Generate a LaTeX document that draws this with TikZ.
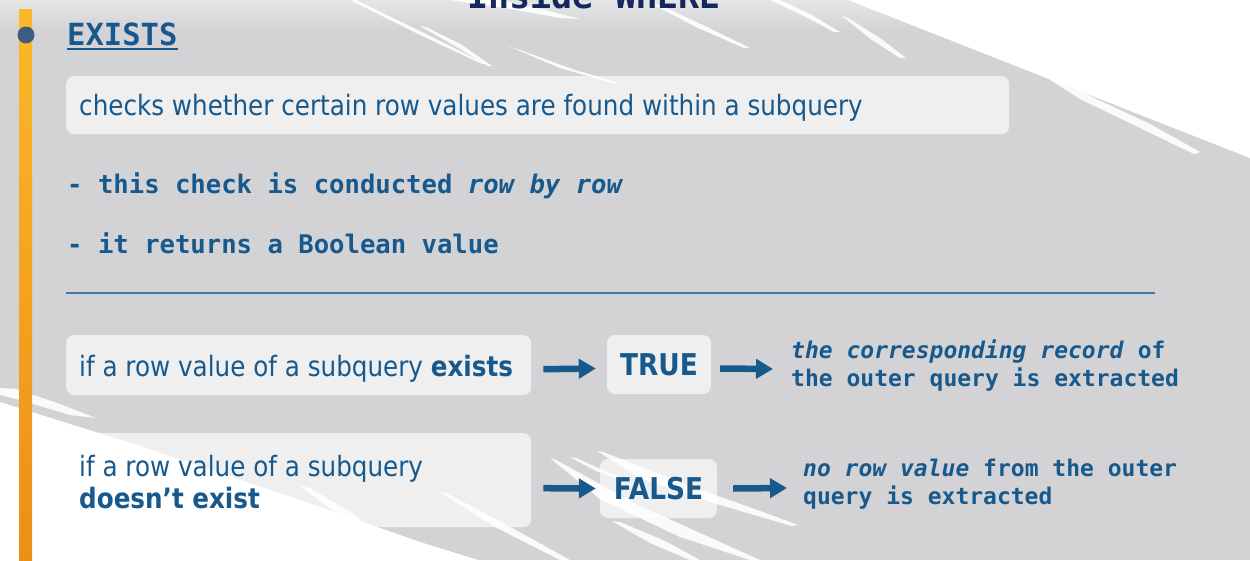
\documentclass[tikz,border=0pt]{standalone}
\usepackage{fontspec}
\setmainfont{DejaVu Sans}[FakeStretch=0.88]
\setmonofont{DejaVu Sans Mono}
\usetikzlibrary{arrows.meta}
\definecolor{bggray}{HTML}{D3D3D5}
\definecolor{bgtop}{HTML}{E6E6E8}
\definecolor{inkblue}{HTML}{17598C}
\definecolor{navy}{HTML}{13285C}
\definecolor{dotblue}{HTML}{3E5B82}
\definecolor{barTop}{HTML}{FBB829}
\definecolor{barBot}{HTML}{EC8F17}
\definecolor{rulecol}{HTML}{3F7BA6}

\begin{document}
\begin{tikzpicture}[x=1pt,y=-1pt,
  panel/.style={fill=white,fill opacity=0.66,text opacity=1,rounded corners=8pt,
                inner sep=0pt,anchor=north west},
  bodytext/.style={text=inkblue,inner sep=0pt,font=\fontsize{28}{32}\selectfont},
  codetext/.style={text=inkblue,inner sep=0pt,font=\ttfamily\bfseries\fontsize{25.6}{30}\selectfont},
  sidetext/.style={text=inkblue,inner sep=0pt,align=left,font=\ttfamily\bfseries\fontsize{23}{28}\selectfont},
  verdict/.style={panel,anchor=center,text=inkblue,font=\bfseries\fontsize{30}{34}\selectfont},
  flow/.style={draw=inkblue,line width=6.5pt,-{Triangle[length=17pt,width=19pt]}},
  streak/.style={fill=white,fill opacity=0.9}]

\useasboundingbox (0,0) rectangle (1250,560);
\clip (0,0) rectangle (1250,560);

% backdrop
\fill[bggray] (0,0) rectangle (1250,560);
\shade[top color=bgtop,bottom color=bggray] (0,0) rectangle (1250,30);
\fill[white] (848,0) -- (1250,0) -- (1250,158) -- cycle;
\fill[white] (0,402) -- (140,446) -- (300,500) -- (420,542) -- (478,560) -- (0,560) -- cycle;

% brush streaks, top
\fill[streak] (350,0) -- (356,0) -- (420,31) -- (486,64) -- (482,64) -- (416,33) -- cycle;
\fill[streak] (420,26) -- (426,27) -- (462,45) -- (492,66) -- (488,66) -- (455,46) -- cycle;
\fill[streak] (450,0) -- (500,0) -- (545,10) -- (580,19) -- (560,18) -- (505,8) -- cycle;
\fill[streak] (508,46) -- (520,50) -- (575,70) -- (620,83) -- (612,83) -- (560,68) -- cycle;
\fill[streak] (650,3) -- (660,5) -- (705,26) -- (750,48) -- (744,48) -- (698,28) -- cycle;
\fill[streak] (770,0) -- (780,0) -- (810,14) -- (840,32) -- (834,32) -- (804,16) -- cycle;
\fill[streak] (842,16) -- (848,18) -- (880,38) -- (906,58) -- (900,58) -- (872,40) -- cycle;
\fill[streak] (1022,62) -- (1030,63) -- (1090,96) -- (1150,124) -- (1200,152) -- (1194,154)
              -- (1140,128) -- (1080,99) -- cycle;

% brush streaks, bottom
\fill[streak] (0,388) -- (16,389) -- (60,404) -- (96,418) -- (70,415) -- (20,400) -- (0,395) -- cycle;
\fill[streak] (300,486) -- (310,488) -- (355,515) -- (398,560) -- (388,560) -- (345,520) -- cycle;
\fill[streak] (440,492) -- (446,493) -- (505,524) -- (570,560) -- (560,560) -- (495,527) -- cycle;
\fill[streak] (570,457) -- (576,458) -- (603,470) -- (626,480) -- (620,480) -- (596,471) -- cycle;
\fill[streak] (597,451) -- (603,452) -- (690,486) -- (760,511) -- (798,525) -- (792,526)
              -- (720,505) -- (640,478) -- cycle;
\fill[streak] (550,458) -- (556,460) -- (640,506) -- (720,542) -- (760,560) -- (750,560)
              -- (680,537) -- (600,499) -- cycle;
\fill[streak] (612,521) -- (620,522) -- (665,541) -- (700,560) -- (690,560) -- (650,543) -- cycle;

% timeline bar and bullet dot
\shade[top color=barTop,bottom color=barBot] (19,9) rectangle (32,560);
\fill[dotblue] (26,35) circle (8.5pt);

% heading
\node[anchor=base,text=navy,inner sep=0pt,font=\ttfamily\bfseries\fontsize{35}{40}\selectfont]
  (title) at (594,8) {Inside WHERE};
\node[anchor=base west,inner sep=0pt,text=inkblue,font=\ttfamily\bfseries\fontsize{30.5}{34}\selectfont]
  (ex) at (67,45) {EXISTS};
\draw[inkblue,line width=2pt] ([yshift=-4pt]ex.base west) -- ([yshift=-4pt]ex.base east);

% definition
\node[panel,minimum width=943pt,minimum height=58pt] (def) at (66,76) {};
\node[bodytext,anchor=base west] (deft) at (79,115)
  {checks whether certain row values are found within a subquery};

\node[codetext,anchor=base west] (b1) at (67,193) {- this check is conducted \textit{row by row}};
\node[codetext,anchor=base west] (b2) at (67,253) {- it returns a Boolean value};

\coordinate (r1) at (66,293);
\coordinate (r2) at (1155,293);
\draw[rulecol,line width=1.2pt] (r1) -- (r2);

% case: exists
\node[panel,minimum width=465pt,minimum height=60pt] (q1) at (66,335) {};
\node[bodytext,anchor=base west] (q1t) at (79,376) {if a row value of a subquery \textbf{exists}};
\node[verdict,minimum width=104pt,minimum height=59pt] (t1) at (659,364.5) {TRUE};
\node[sidetext,anchor=west] (o1) at (791,366)
  {\textit{the corresponding record} of\\the outer query is extracted};
\draw[flow] ([xshift=12pt,yshift=-4pt]q1.east) -- ([xshift=-11pt,yshift=-4pt]t1.west);
\draw[flow] ([xshift=9pt,yshift=-4pt]t1.east) -- ([xshift=-18pt,yshift=-3pt]o1.west);

% case: does not exist (base anchor sits on the last line)
\node[panel,minimum width=465pt,minimum height=94pt] (q2) at (66,433) {};
\node[bodytext,anchor=base west,align=left] (q2t) at (79,508)
  {if a row value of a subquery\\\textbf{doesn’t exist}};
\node[verdict,minimum width=117pt,minimum height=59pt] (f1) at (658.5,488.5) {FALSE};
\node[sidetext,anchor=west] (o2) at (803,484)
  {\textit{no row value} from the outer\\query is extracted};
\draw[flow] ([xshift=12pt,yshift=-8pt]q2.east) -- ([xshift=-4pt]f1.west);
\draw[flow] ([xshift=16pt]f1.east) -- ([xshift=-16pt,yshift=-4pt]o2.west);

\end{tikzpicture}
\end{document}
